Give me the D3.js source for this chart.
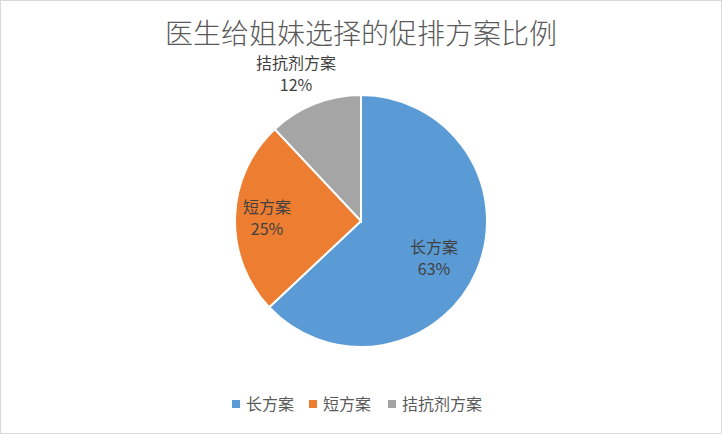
<!DOCTYPE html><html><head><meta charset="utf-8">
<script src="https://cdn.jsdelivr.net/npm/d3@7"></script>
<style>body{margin:0;background:#fff}</style></head><body>
<script>
const categories=["长方案","短方案","拮抗剂方案"];
const values=[63,25,12];
const colors=["#5B9BD5","#ED7D31","#A5A5A5"];
const W=722,H=434,cx=361,cy=221,r=126;
const font="'Noto Sans CJK SC', sans-serif";
const svg=d3.select("body").append("svg").attr("width",W).attr("height",H);
svg.append("rect").attr("x",0.5).attr("y",0.5).attr("width",W-1).attr("height",H-1).attr("fill","#fff").attr("stroke","#d9d9d9");
svg.append("text").attr("x",W/2).attr("y",44).attr("text-anchor","middle").attr("font-family",font).attr("font-weight",300).attr("font-size",28).attr("fill","#595959").text("医生给姐妹选择的促排方案比例");
const pie=d3.pie().sort(null)(values);
const arc=d3.arc().innerRadius(0).outerRadius(r);
const g=svg.append("g").attr("transform",`translate(${cx},${cy})`);
g.selectAll("path").data(pie).join("path").attr("d",arc).attr("fill",(d,i)=>colors[i]).attr("stroke","#fff").attr("stroke-width",2);
const labelPos=[[73,32],[-94,-8],[-65,-152]];
pie.forEach((d,i)=>{
  const t=g.append("text").attr("text-anchor","middle").attr("font-family",font).attr("font-size",16).attr("fill","#404040");
  t.append("tspan").attr("x",labelPos[i][0]).attr("y",labelPos[i][1]).text(categories[i]);
  t.append("tspan").attr("x",labelPos[i][0]).attr("y",labelPos[i][1]+22).text(values[i]+"%");
});
const lg=svg.append("g").attr("font-family",font).attr("font-size",16).attr("fill","#595959");
const lx=[232,309,388];
categories.forEach((c,i)=>{
  lg.append("rect").attr("x",lx[i]).attr("y",400).attr("width",8).attr("height",8).attr("fill",colors[i]);
  lg.append("text").attr("x",lx[i]+14).attr("y",410).text(c);
});
</script></body></html>
